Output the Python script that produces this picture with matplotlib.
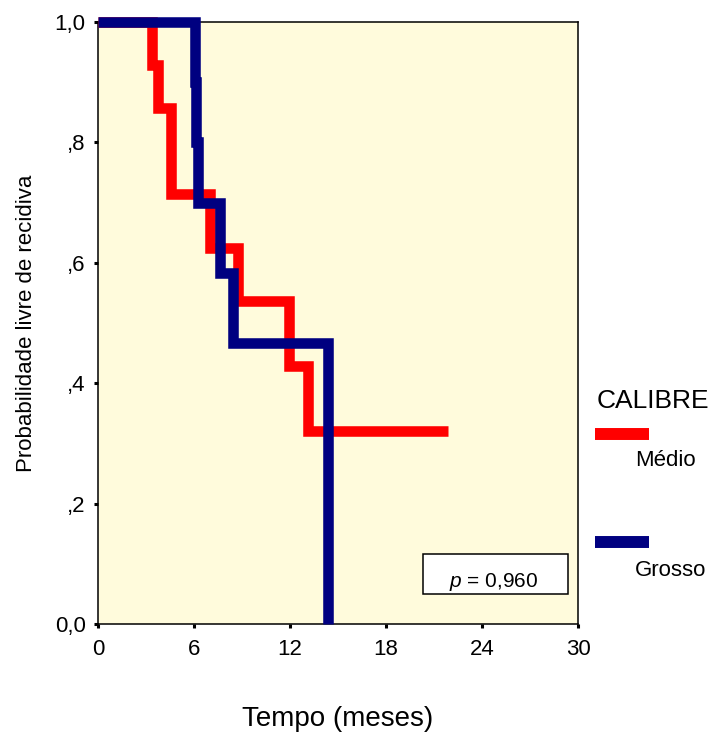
import matplotlib
matplotlib.use("Agg")
import matplotlib.pyplot as plt
from matplotlib.lines import Line2D
from matplotlib.patches import Rectangle

plt.rcParams['font.family'] = ['Liberation Sans', 'DejaVu Sans']
plt.rcParams['mathtext.fontset'] = 'custom'
plt.rcParams['mathtext.it'] = 'Liberation Sans:italic'
plt.rcParams['mathtext.rm'] = 'Liberation Sans'

# dados --------------------------------------------------------------
medio_t = [0, 3.35, 3.72, 4.55, 7.0, 8.78, 11.95, 13.15, 21.85]
medio_s = [1.0, 0.929, 0.857, 0.714, 0.625, 0.536, 0.429, 0.321, 0.321]
grosso_t = [0, 6.05, 6.15, 6.25, 7.65, 8.45, 14.4]
grosso_s = [1.0, 0.9, 0.8, 0.7, 0.583, 0.467, 0.0]

x_ticks = [0, 6, 12, 18, 24, 30]
y_ticks = [0.0, 0.2, 0.4, 0.6, 0.8, 1.0]
y_labels = ['0,0', ',2', ',4', ',6', ',8', '1,0']
p_text = '$p$ = 0,960'

red = '#FF0000'
navy = '#000080'

fig = plt.figure(figsize=(7.15, 7.33), dpi=100)
ax = fig.add_axes([98/715, 1 - 624/733, 480/715, 602/733])
ax.set_facecolor('#FFFBDC')

ax.step(medio_t, medio_s, where='post', color=red, lw=7.6,
        solid_joinstyle='miter', solid_capstyle='butt', clip_on=False, zorder=3)
ax.step(grosso_t, grosso_s, where='post', color=navy, lw=7.6,
        solid_joinstyle='miter', solid_capstyle='butt', clip_on=False, zorder=4)

ax.set_xlim(0, 30)
ax.set_ylim(0, 1)
ax.set_xticks(x_ticks)
ax.set_yticks(y_ticks)
ax.set_yticklabels(y_labels)
ax.tick_params(direction='out', length=3, width=2.2, labelsize=16)
ax.tick_params(axis='x', pad=7.5)
ax.tick_params(axis='y', pad=6)
for s in ax.spines.values():
    s.set_linewidth(1.1)

ax.set_xlabel('Tempo (meses)', fontsize=20)
ax.xaxis.set_label_coords(0.5, -(706 - 624) / 602)
ax.xaxis.label.set_va('top')
ax.set_ylabel('Probabilidade livre de recidiva', fontsize=16)
ax.yaxis.set_label_coords((37 - 98) / 480, 0.5)

# caixa do p-valor
ax.add_patch(Rectangle((20.3, 0.05), 9.1, 0.066, facecolor='white',
                       edgecolor='black', lw=1.1, zorder=5))
ax.text(24.73, 0.0615, p_text, fontsize=15, ha='center', va='baseline', zorder=6)

# legenda (fora do eixo)
fig.text(597/715, 1 - 401/733, 'CALIBRE', fontsize=19, ha='left', va='center')
fig.add_artist(Line2D([595/715, 649/715], [1 - 434/733] * 2, color=red, lw=8.6,
                      solid_capstyle='butt'))
fig.text(635/715, 1 - 460/733, 'Médio', fontsize=16, ha='left', va='center')
fig.add_artist(Line2D([595/715, 649/715], [1 - 542/733] * 2, color=navy, lw=8.6,
                      solid_capstyle='butt'))
fig.text(635/715, 1 - 571/733, 'Grosso', fontsize=16, ha='left', va='center')

fig.savefig('out.png', dpi=100)
